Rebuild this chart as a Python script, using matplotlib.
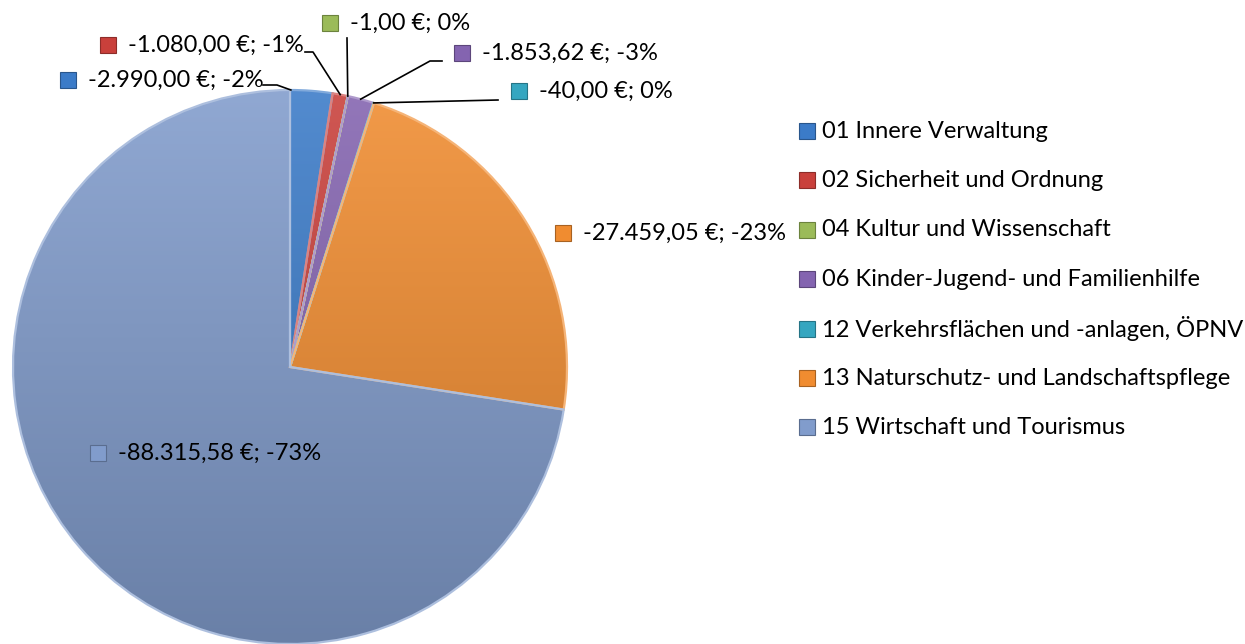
import numpy as np
import matplotlib
matplotlib.use("Agg")
import matplotlib.pyplot as plt
from matplotlib.colors import LinearSegmentedColormap, to_rgb

plt.rcParams['font.family'] = ['Lato', 'DejaVu Sans']

# data
categories = ["01 Innere Verwaltung", "02 Sicherheit und Ordnung", "04 Kultur und Wissenschaft",
              "06 Kinder-Jugend- und Familienhilfe", "12 Verkehrsflächen und -anlagen, ÖPNV",
              "13 Naturschutz- und Landschaftspflege", "15 Wirtschaft und Tourismus"]
amounts = [2990.00, 1080.00, 1.00, 1853.62, 40.00, 27459.05, 88315.58]
label_texts = ["-2.990,00 €; -2%", "-1.080,00 €; -1%", "-1,00 €; 0%", "-1.853,62 €; -3%",
               "-40,00 €; 0%", "-27.459,05 €; -23%", "-88.315,58 €; -73%"]

colors = ["#3B7BC8", "#C9403B", "#9BBB59", "#8464B0", "#35A6C0", "#F08C30", "#819CCC"]

# layout (pixels, top-left origin)
W, H = 1245, 644
cx, cy, R = 290, 367, 277
marker_pos = [(68, 80), (108, 45), (330, 23), (462, 53), (519, 91), (563, 233), (98, 453)]
# leader elbows from label side towards the slice, None = no leader line
leaders = [[(263, 85), (277, 85)], [(305, 52), (313, 52)], [(347, 38)],
           [(442, 61), (430, 61)], [(498, 100)], None, None]
anchor_frac = [0.02, 0.5, 0.5, 0.5, 0.5, 0.5, 0.5]
fs = 17


def py(y):
    return H - y


def shade(c, f):
    r, g, b = to_rgb(c)
    if f >= 1:
        return (r + (1 - r) * (f - 1), g + (1 - g) * (f - 1), b + (1 - b) * (f - 1))
    return (r * f, g * f, b * f)


fig = plt.figure(figsize=(W / 100, H / 100), dpi=100)
ax = fig.add_axes([0, 0, 1, 1])

wedges, _ = ax.pie(amounts, startangle=90, counterclock=False, radius=R, center=(cx, py(cy)))

grad = np.linspace(1, 0, 256).reshape(-1, 1)
for w, c in zip(wedges, colors):
    cmap = LinearSegmentedColormap.from_list("g", [shade(c, 0.82), shade(c, 1.12)])
    img = ax.imshow(grad, cmap=cmap, extent=(cx - R, cx + R, py(cy) - R, py(cy) + R),
                    origin="upper", zorder=2, aspect="auto")
    img.set_clip_path(w)
    w.set_facecolor("none")
    w.set_edgecolor(shade(c, 1.35))
    w.set_linewidth(1.6)
    w.set_zorder(3)

# data labels with leader lines
for i, (w, c) in enumerate(zip(wedges, colors)):
    mx, my = marker_pos[i]
    ax.plot(mx, py(my), marker="s", markersize=11, mfc=c, mec=shade(c, 0.7), mew=0.8, zorder=5)
    ax.text(mx + 20, py(my), label_texts[i], fontsize=fs, va="center", ha="left", zorder=5)
    if leaders[i] is not None:
        ang = np.deg2rad(w.theta2 - anchor_frac[i] * (w.theta2 - w.theta1))
        pts = [(x, py(y)) for x, y in leaders[i]]
        pts.append((cx + R * np.cos(ang), py(cy) + R * np.sin(ang)))
        xs, ys = zip(*pts)
        ax.plot(xs, ys, color="black", lw=1.2, zorder=4)

# legend
for i, (name, c) in enumerate(zip(categories, colors)):
    y = 131 + 49.4 * i
    ax.plot(807, py(y), marker="s", markersize=11, mfc=c, mec=shade(c, 0.7), mew=0.8)
    ax.text(822, py(y), name, fontsize=fs, va="center", ha="left")

ax.set_xlim(0, W)
ax.set_ylim(0, H)
ax.set_aspect("equal")
ax.axis("off")

fig.savefig("out.png", dpi=100)
